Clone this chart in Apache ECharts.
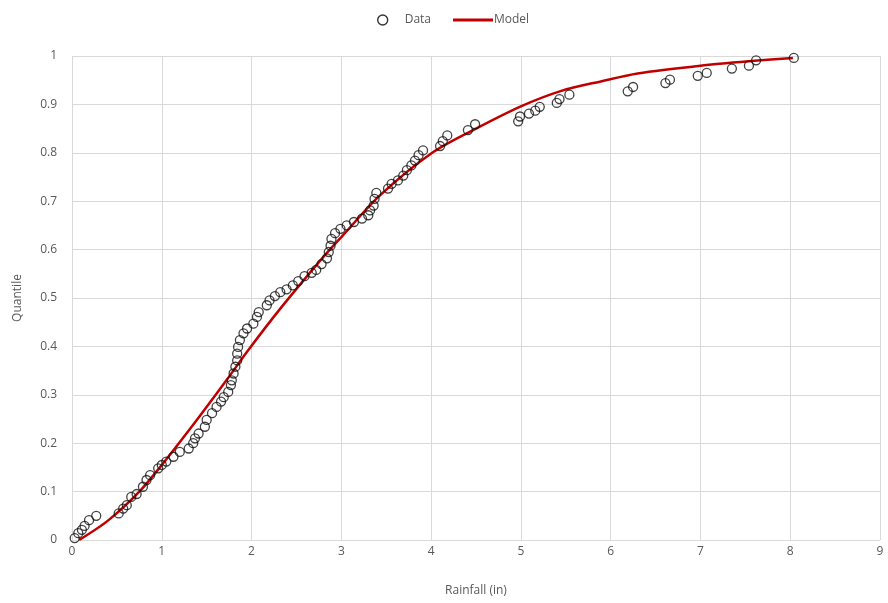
<!DOCTYPE html>
<html>
<head>
<meta charset="utf-8">
<script src="https://cdn.jsdelivr.net/npm/echarts@6/dist/echarts.min.js"></script>
<style>
  html, body { margin: 0; padding: 0; background: #fff; }
  #chart { width: 888px; height: 603px; }
</style>
</head>
<body>
<div id="chart"></div>
<script>
const rainX = [
  0.03, 0.07, 0.11, 0.14, 0.19, 0.27, 0.52, 0.57, 0.61, 0.66,
  0.72, 0.79, 0.83, 0.87, 0.96, 1.00, 1.05, 1.13, 1.20, 1.30,
  1.35, 1.37, 1.41, 1.48, 1.50, 1.56, 1.61, 1.66, 1.69, 1.74,
  1.77, 1.78, 1.80, 1.82, 1.84, 1.84, 1.85, 1.87, 1.91, 1.95,
  2.02, 2.06, 2.08, 2.17, 2.20, 2.26, 2.32, 2.39, 2.46, 2.52,
  2.59, 2.67, 2.72, 2.78, 2.84, 2.86, 2.88, 2.89, 2.93, 2.99,
  3.06, 3.14, 3.23, 3.30, 3.32, 3.36, 3.37, 3.39, 3.52, 3.56,
  3.63, 3.69, 3.73, 3.78, 3.82, 3.86, 3.91, 4.10, 4.13, 4.18,
  4.41, 4.49, 4.97, 4.99, 5.09, 5.16, 5.21, 5.40, 5.43, 5.54,
  6.19, 6.25, 6.61, 6.66, 6.97, 7.07, 7.35, 7.54, 7.62, 8.04
]
const quantileY = [
  0.004, 0.014, 0.021, 0.029, 0.041, 0.050, 0.055, 0.065, 0.072, 0.089,
  0.095, 0.110, 0.124, 0.134, 0.148, 0.155, 0.162, 0.172, 0.182, 0.189,
  0.200, 0.210, 0.220, 0.234, 0.248, 0.262, 0.275, 0.286, 0.295, 0.306,
  0.320, 0.330, 0.344, 0.358, 0.371, 0.385, 0.399, 0.413, 0.427, 0.437,
  0.447, 0.461, 0.471, 0.485, 0.495, 0.504, 0.512, 0.518, 0.526, 0.535,
  0.545, 0.552, 0.558, 0.570, 0.582, 0.595, 0.608, 0.622, 0.634, 0.643,
  0.650, 0.657, 0.664, 0.671, 0.681, 0.691, 0.705, 0.717, 0.726, 0.736,
  0.743, 0.753, 0.764, 0.774, 0.784, 0.795, 0.805, 0.814, 0.824, 0.836,
  0.847, 0.859, 0.865, 0.875, 0.881, 0.887, 0.895, 0.903, 0.911, 0.920,
  0.927, 0.936, 0.944, 0.951, 0.959, 0.965, 0.974, 0.980, 0.991, 0.996
]

// fitted model curve
const modelX = [0.08, 0.40, 0.75, 1.00, 1.39, 1.72, 1.95, 2.32, 2.80, 3.02, 3.43, 4.02, 4.50, 5.00, 5.45, 5.90, 6.30, 7.00, 7.60, 8.03]
const modelY = [0.000, 0.040, 0.100, 0.155, 0.248, 0.330, 0.389, 0.478, 0.585, 0.630, 0.712, 0.801, 0.850, 0.896, 0.928, 0.948, 0.964, 0.980, 0.990, 0.996]

const xTicks = { min: 0, max: 9, step: 1 }
const yTicks = { min: 0, max: 1, step: 0.1 }

const FONT = '"Open Sans", "DejaVu Sans", sans-serif'
const TEXT = '#595959'
const GRID = '#d9d9d9'

const chart = echarts.init(document.getElementById('chart'))

chart.setOption({
  animation: false,
  textStyle: { fontFamily: FONT },
  legend: [
    {
      left: 372,
      top: 9,
      itemWidth: 10,
      itemHeight: 10,
      textStyle: { color: TEXT, fontSize: 12, fontFamily: FONT, padding: [0, 0, 0, 12] },
      data: [{ name: 'Data', icon: 'circle', itemStyle: { color: 'transparent', borderColor: '#000', borderWidth: 1.4 } }],
    },
    {
      left: 448,
      top: 9,
      itemWidth: 40,
      itemHeight: 3,
      textStyle: { color: TEXT, fontSize: 12, fontFamily: FONT, padding: [0, 0, 0, -4] },
      data: [{ name: 'Model', icon: 'rect', itemStyle: { color: '#c00000' } }],
    },
  ],
  grid: { left: 72, right: 8, top: 56, bottom: 63 },
  xAxis: {
    type: 'value',
    min: xTicks.min,
    max: xTicks.max,
    interval: xTicks.step,
    name: 'Rainfall (in)',
    nameLocation: 'middle',
    nameGap: 45,
    nameTextStyle: { color: TEXT, fontSize: 12, fontFamily: FONT },
    axisLine: { show: false },
    axisTick: { show: false },
    axisLabel: { color: TEXT, fontSize: 12, margin: 6, fontFamily: FONT },
    splitLine: { lineStyle: { color: GRID, width: 1 } },
  },
  yAxis: {
    type: 'value',
    min: yTicks.min,
    max: yTicks.max,
    interval: yTicks.step,
    name: 'Quantile',
    nameLocation: 'middle',
    nameGap: 48,
    nameTextStyle: { color: TEXT, fontSize: 12, fontFamily: FONT },
    axisLine: { show: false },
    axisTick: { show: false },
    axisLabel: { color: TEXT, fontSize: 12, margin: 15, fontFamily: FONT },
    splitLine: { lineStyle: { color: GRID, width: 1 } },
  },
  series: [
    {
      name: 'Model',
      type: 'line',
      smooth: 0.3,
      symbol: 'none',
      z: 2,
      lineStyle: { color: '#c00000', width: 2.5 },
      itemStyle: { color: '#c00000' },
      data: modelX.map((x, i) => [x, modelY[i]]),
    },
    {
      name: 'Data',
      type: 'scatter',
      symbol: 'circle',
      symbolSize: 9,
      z: 3,
      itemStyle: { color: 'transparent', borderColor: '#111', borderWidth: 1.3 },
      data: rainX.map((x, i) => [x, quantileY[i]]),
    },
  ],
})
</script>
</body>
</html>
